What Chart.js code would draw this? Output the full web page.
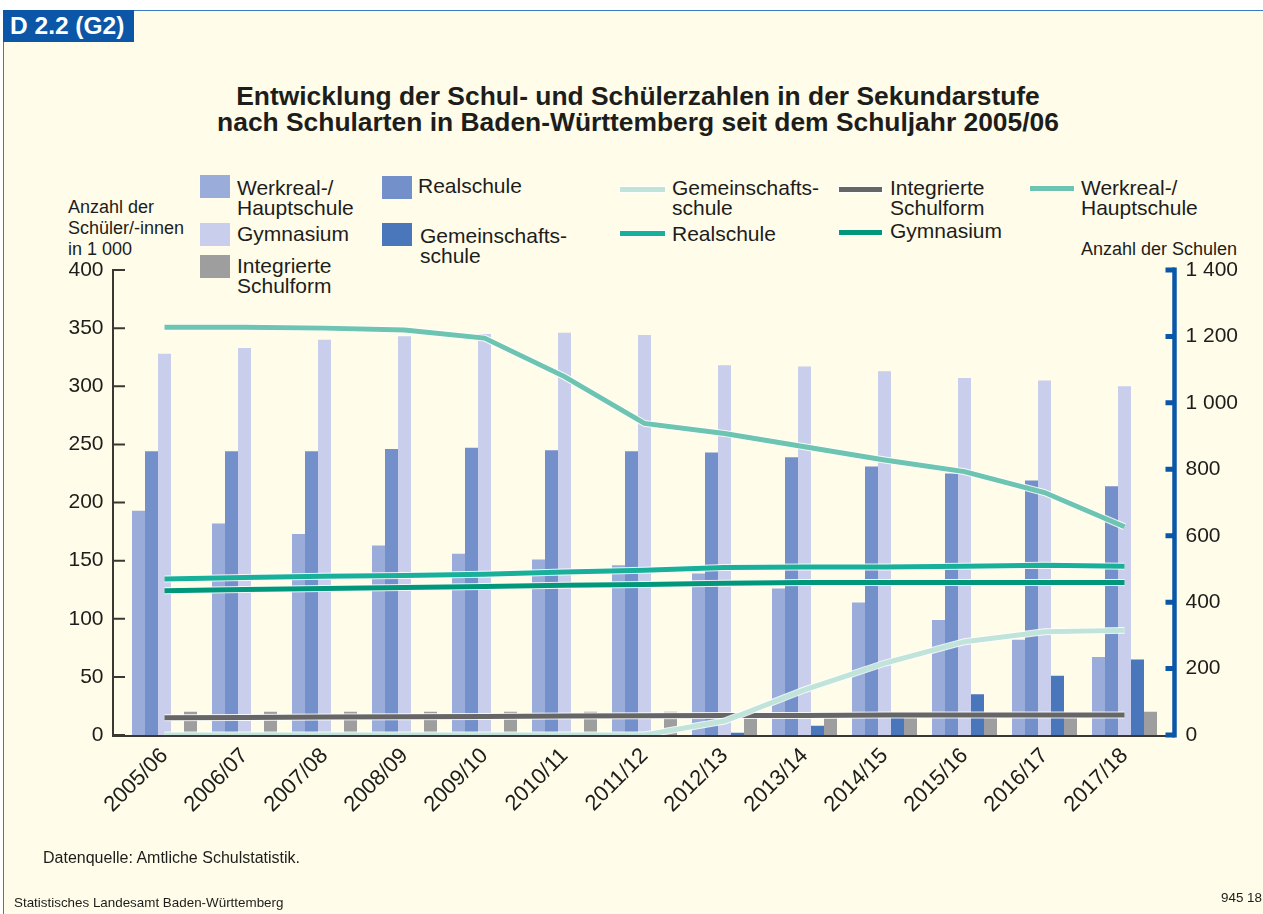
<!DOCTYPE html>
<html><head><meta charset="utf-8">
<script src="https://cdn.jsdelivr.net/npm/chart.js@4.4.1/dist/chart.umd.min.js"></script>
<style>
html,body{margin:0;padding:0;background:#fff;}
body{width:1263px;height:914px;position:relative;overflow:hidden;font-family:"Liberation Sans",Arial,sans-serif;color:#1d1d1b;}
#panel{position:absolute;left:3px;top:10px;width:1265px;height:910px;background:#fffce9;border-top:1px solid #3a7cc3;border-left:1.5px solid #3a7cc3;}
#hdr{position:absolute;left:3px;top:10px;width:131px;height:32px;background:#0b56a6;color:#fff;font-weight:bold;font-size:24.5px;line-height:32px;padding-left:7px;box-sizing:border-box;}
#title{position:absolute;left:0;top:82.5px;width:1276px;text-align:center;font-weight:bold;font-size:26.4px;line-height:26.5px;}
canvas{position:absolute;left:0;top:0;}
.t{position:absolute;white-space:nowrap;}
.lg{font-size:21px;line-height:20px;}
.ax{font-size:18px;line-height:21px;}
.sw{position:absolute;width:30px;height:23px;}
.ln{position:absolute;height:5px;box-shadow:0 0 0 1px rgba(255,255,255,0.8);}
</style></head>
<body>
<div id="panel"></div>
<div id="hdr">D 2.2 (G2)</div>
<div id="title">Entwicklung der Schul- und Schülerzahlen in der Sekundarstufe<br>nach Schularten in Baden-Württemberg seit dem Schuljahr 2005/06</div>

<div class="sw" style="left:200px;top:175px;background:#99acda"></div>
<div class="t lg" style="left:237px;top:178px">Werkreal-/<br>Hauptschule</div>
<div class="sw" style="left:200px;top:223px;background:#c8ceeb"></div>
<div class="t lg" style="left:237px;top:223.5px">Gymnasium</div>
<div class="sw" style="left:200px;top:255px;background:#9e9e9e"></div>
<div class="t lg" style="left:237px;top:255.5px">Integrierte<br>Schulform</div>
<div class="sw" style="left:382px;top:176px;background:#7490ca"></div>
<div class="t lg" style="left:418px;top:176px">Realschule</div>
<div class="sw" style="left:382px;top:223px;background:#4a76bb"></div>
<div class="t lg" style="left:420px;top:226px">Gemeinschafts-<br>schule</div>

<div class="ln" style="left:620px;top:187px;width:45px;background:#c1e4da"></div>
<div class="t lg" style="left:672px;top:178px">Gemeinschafts-<br>schule</div>
<div class="ln" style="left:620px;top:230.5px;width:45px;background:#19b09a"></div>
<div class="t lg" style="left:672px;top:224px">Realschule</div>
<div class="ln" style="left:839px;top:186.5px;width:43px;background:#666666"></div>
<div class="t lg" style="left:890px;top:178px">Integrierte<br>Schulform</div>
<div class="ln" style="left:839px;top:229.5px;width:43px;background:#00977a"></div>
<div class="t lg" style="left:890px;top:221px">Gymnasium</div>
<div class="ln" style="left:1030px;top:185.5px;width:44px;background:#6cc4b1"></div>
<div class="t lg" style="left:1081px;top:178px">Werkreal-/<br>Hauptschule</div>

<div class="t ax" style="left:68px;top:197px">Anzahl der<br>Schüler/-innen<br>in 1 000</div>
<div class="t ax" style="left:1081px;top:238.5px">Anzahl der Schulen</div>

<canvas id="c" width="1263" height="914"></canvas>

<div class="t" style="left:43px;top:849px;font-size:16px;line-height:18px">Datenquelle: Amtliche Schulstatistik.</div>
<div class="t" style="left:14px;top:895px;font-size:13.4px;line-height:16px">Statistisches Landesamt Baden-Württemberg</div>
<div class="t" style="right:1px;top:890px;font-size:13.4px;line-height:16px">945 18</div>

<script>
// ---- data ----
const categories = ['2005/06','2006/07','2007/08','2008/09','2009/10','2010/11','2011/12','2012/13','2013/14','2014/15','2015/16','2016/17','2017/18'];
// pupils in 1 000 (left axis)
const werkrealStudents = [193, 182, 173, 163, 156, 151, 146, 139, 126, 114, 99, 82, 67];
const realStudents     = [244, 244, 244, 246, 247, 245, 244, 243, 239, 231, 225, 219, 214];
const gymStudents      = [328, 333, 340, 343, 345, 346, 344, 318, 317, 313, 307, 305, 300];
const gmsStudents      = [0, 0, 0, 0, 0, 0, 0, 2, 8, 16, 35, 51, 65];
const intStudents      = [20, 20, 20, 20, 20, 20, 20, 18, 18, 18, 18, 18, 20];
// number of schools (right axis)
const werkrealSchools = [1228, 1228, 1225, 1219, 1195, 1079, 938, 908, 868, 828, 793, 730, 627];
const realSchools     = [470, 474, 478, 480, 484, 491, 496, 504, 506, 506, 508, 511, 508];
const gymSchools      = [434, 438, 441, 444, 447, 451, 453, 457, 459, 459, 459, 459, 459];
const gmsSchools      = [0, 0, 0, 0, 0, 0, 0, 42, 136, 216, 281, 311, 315];
const intSchools      = [52, 53, 54, 55, 56, 57, 58, 59, 59, 60, 60, 60, 60];
const leftTicks = [0, 50, 100, 150, 200, 250, 300, 350, 400];
const rightTicks = [0, 200, 400, 600, 800, 1000, 1200, 1400];

const FONT = '"Liberation Sans", Arial, sans-serif';

const outlinePlugin = {
  id: 'outline',
  beforeDatasetDraw(chart, args) {
    const ds = chart.data.datasets[args.index];
    if (ds.type !== 'line') return;
    const pts = args.meta.data, ctx = chart.ctx;
    ctx.save();
    ctx.beginPath();
    pts.forEach((p, i) => i ? ctx.lineTo(p.x, p.y) : ctx.moveTo(p.x, p.y));
    ctx.strokeStyle = 'rgba(255,255,255,0.85)';
    ctx.lineWidth = ds.borderWidth + 2;
    ctx.lineCap = 'butt';
    ctx.stroke();
    ctx.restore();
  }
};

const axisPlugin = {
  id: 'axisLines',
  afterDatasetsDraw(chart) {
    const {ctx, chartArea: a, scales: {y, y2}} = chart;
    const lx = a.left - 11.5, rx = a.right + 10;
    const y0 = y.getPixelForValue(0);
    ctx.save();
    ctx.strokeStyle = '#3a3833';
    ctx.lineWidth = 2;
    ctx.beginPath();
    ctx.moveTo(lx, y.getPixelForValue(y.max) - 1);
    ctx.lineTo(lx, y0 + 2);
    y.ticks.forEach(t => { const py = y.getPixelForValue(t.value); ctx.moveTo(lx, py); ctx.lineTo(lx + 12, py); });
    ctx.stroke();
    ctx.beginPath();
    ctx.moveTo(lx - 1, y0 + 1);
    ctx.lineTo(rx, y0 + 1);
    ctx.stroke();
    ctx.strokeStyle = '#0a56a8';
    ctx.lineWidth = 4.5;
    ctx.beginPath();
    ctx.moveTo(rx, y2.getPixelForValue(y2.max) - 2.5);
    ctx.lineTo(rx, y2.getPixelForValue(0) + 2.5);
    ctx.stroke();
    ctx.lineWidth = 5;
    ctx.beginPath();
    y2.ticks.forEach(t => { const py = y2.getPixelForValue(t.value); ctx.moveTo(rx - 9, py); ctx.lineTo(rx, py); });
    ctx.stroke();
    ctx.restore();
  }
};

function barDs(label, data, color) {
  return {type: 'bar', label, data, backgroundColor: color, yAxisID: 'y', order: 10,
          categoryPercentage: 0.8125, barPercentage: 1.0, borderWidth: 0};
}
function lineDs(label, data, color, order) {
  return {type: 'line', label, data, borderColor: color, borderWidth: 5, yAxisID: 'y2', order,
          pointRadius: 0, tension: 0, fill: false, borderCapStyle: 'butt', borderJoinStyle: 'miter'};
}

new Chart(document.getElementById('c'), {
  data: {
    labels: categories,
    datasets: [
      barDs('Werkreal-/Hauptschule', werkrealStudents, '#99acda'),
      barDs('Realschule', realStudents, '#7490ca'),
      barDs('Gymnasium', gymStudents, '#c8ceeb'),
      barDs('Gemeinschaftsschule', gmsStudents, '#4a76bb'),
      barDs('Integrierte Schulform', intStudents, '#9e9e9e'),
      lineDs('Gemeinschaftsschule', gmsSchools, '#c1e4da', 1),
      lineDs('Integrierte Schulform', intSchools, '#666666', 2),
      lineDs('Werkreal-/Hauptschule', werkrealSchools, '#6cc4b1', 3),
      lineDs('Realschule', realSchools, '#19b09a', 4),
      lineDs('Gymnasium', gymSchools, '#00977a', 5)
    ]
  },
  options: {
    responsive: false,
    animation: false,
    devicePixelRatio: 1,
    layout: {padding: {top: 270, left: 0, right: 0, bottom: 0}},
    plugins: {legend: {display: false}, tooltip: {enabled: false}, title: {display: false}},
    scales: {
      x: {
        type: 'category',
        offset: true,
        grid: {display: false, drawTicks: false},
        border: {display: false},
        ticks: {font: {family: FONT, size: 22}, color: '#1d1d1b', minRotation: 45, maxRotation: 45, autoSkip: false, padding: 8},
        afterFit: s => { s.height = 179; }
      },
      y: {
        position: 'left', min: 0, max: 400,
        grid: {display: false, drawTicks: false},
        border: {display: false},
        afterBuildTicks: s => { s.ticks = leftTicks.map(v => ({value: v})); },
        ticks: {font: {family: FONT, size: 21}, color: '#1d1d1b', padding: 21},
        afterFit: s => { s.width = 124.5; }
      },
      y2: {
        position: 'right', min: 0, max: 1400,
        grid: {display: false, drawTicks: false},
        border: {display: false},
        afterBuildTicks: s => { s.ticks = rightTicks.map(v => ({value: v})); },
        ticks: {font: {family: FONT, size: 21}, color: '#1d1d1b', padding: 21,
                callback: v => String(v).replace(/\B(?=(\d{3})+(?!\d))/g, ' ')},
        afterFit: s => { s.width = 98.5; }
      }
    }
  },
  plugins: [outlinePlugin, axisPlugin]
});
</script>
</body></html>
